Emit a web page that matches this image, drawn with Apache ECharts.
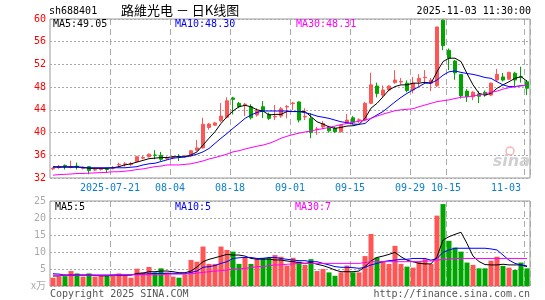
<!DOCTYPE html>
<html>
<head>
<meta charset="utf-8">
<script src="https://cdn.jsdelivr.net/npm/echarts@6/dist/echarts.min.js"></script>
<style>
  html, body { margin: 0; padding: 0; background: #fff; }
  #chart { width: 545px; height: 300px; }
</style>
</head>
<body>
<div id="chart"></div>
<script>
const dates = [
  '2025-07-07','2025-07-08','2025-07-09','2025-07-10','2025-07-11',
  '2025-07-14','2025-07-15','2025-07-16','2025-07-17','2025-07-18',
  '2025-07-21','2025-07-22','2025-07-23','2025-07-24','2025-07-25',
  '2025-07-28','2025-07-29','2025-07-30','2025-07-31','2025-08-01',
  '2025-08-04','2025-08-05','2025-08-06','2025-08-07','2025-08-08',
  '2025-08-11','2025-08-12','2025-08-13','2025-08-14','2025-08-15',
  '2025-08-18','2025-08-19','2025-08-20','2025-08-21','2025-08-22',
  '2025-08-25','2025-08-26','2025-08-27','2025-08-28','2025-08-29',
  '2025-09-01','2025-09-02','2025-09-03','2025-09-04','2025-09-05',
  '2025-09-08','2025-09-09','2025-09-10','2025-09-11','2025-09-12',
  '2025-09-15','2025-09-16','2025-09-17','2025-09-18','2025-09-19',
  '2025-09-22','2025-09-23','2025-09-24','2025-09-25','2025-09-26',
  '2025-09-29','2025-09-30','2025-10-09','2025-10-10','2025-10-13',
  '2025-10-14','2025-10-15','2025-10-16','2025-10-17','2025-10-20',
  '2025-10-21','2025-10-22','2025-10-23','2025-10-24','2025-10-27',
  '2025-10-28','2025-10-29','2025-10-30','2025-10-31','2025-11-03'
];

// dates that get a label and a dashed line
const tickDates = ['2025-07-21','2025-08-04','2025-08-18','2025-09-01','2025-09-15','2025-09-29','2025-10-15','2025-11-03'];

const open = [
  33.6,33.9,34.2,33.9,34.1,33.7,34.0,33.4,33.5,33.6,
  33.7,34.3,34.4,34.4,34.9,35.5,35.75,36.05,36.0,35.45,
  35.55,35.8,35.8,35.9,36.9,37.3,40.9,41.3,42.1,42.7,
  46.1,45.15,44.9,44.55,43.1,44.55,43.2,42.75,42.9,44.5,
  45.1,45.4,42.75,42.5,40.55,41.0,41.0,40.75,40.15,41.6,
  42.6,42.15,42.2,45.15,48.2,46.6,47.5,48.8,48.9,48.7,
  47.5,48.95,49.65,48.7,48.25,59.8,54.5,52.6,50.25,47.3,
  46.3,46.8,47.1,46.6,49.25,49.8,49.4,50.45,49.85,48.95
];
const close = [
  33.7,34.0,34.1,34.0,34.0,33.8,33.3,33.5,33.6,33.5,
  33.8,34.4,34.5,34.5,35.75,35.6,36.2,36.0,35.3,35.55,
  35.65,35.75,35.9,36.8,37.3,41.45,41.5,41.7,42.9,45.6,
  45.85,44.55,45.0,42.6,43.8,43.7,42.5,42.85,44.2,44.6,
  45.2,42.2,42.85,40.0,40.65,41.6,40.3,40.15,41.3,42.2,
  41.8,42.25,45.15,48.4,46.9,47.5,48.2,49.25,49.0,47.4,
  48.7,49.55,49.75,49.2,58.6,55.3,53.1,50.5,46.45,46.3,
  47.1,46.4,46.6,48.7,50.25,49.25,50.6,49.25,49.75,47.8
];
const low = [
  33.4,33.6,33.5,33.7,33.5,33.5,32.65,33.2,33.3,32.85,
  33.5,33.9,34.0,34.1,34.8,35.3,35.6,35.3,35.0,35.2,
  35.3,35.0,35.6,35.8,36.8,37.2,40.5,41.2,41.8,42.5,
  43.2,44.3,42.9,42.3,42.8,42.55,42.2,42.2,42.6,42.5,
  44.0,41.8,42.2,39.0,39.6,40.6,40.0,39.9,40.0,41.5,
  41.4,41.7,42.0,45.0,46.2,46.2,47.3,48.6,48.5,47.1,
  46.9,48.1,48.6,47.3,48.0,54.5,51.0,49.3,46.0,45.4,
  45.7,45.2,46.3,46.4,49.1,49.0,49.3,48.1,48.8,46.6
];
const high = [
  33.9,34.3,34.4,35.05,34.7,34.0,34.1,33.7,33.8,33.8,
  34.1,34.7,34.8,34.8,35.9,35.9,36.3,36.9,36.6,35.8,
  35.9,36.2,36.0,36.9,38.7,42.6,41.7,41.9,45.2,46.2,
  46.3,45.4,45.2,45.0,44.3,45.55,43.5,44.85,44.5,44.85,
  45.4,45.5,44.3,43.4,41.0,42.0,41.2,41.0,41.5,43.3,
  42.9,42.5,45.4,50.55,48.8,48.3,48.3,51.0,49.6,49.2,
  49.8,50.3,51.0,49.6,58.6,59.9,54.8,52.8,50.3,47.65,
  47.3,47.3,47.4,48.8,51.2,50.5,50.7,50.7,51.6,49.25
];

const ma5 = [
  33.9,33.9,33.9,33.9,33.9,33.9,33.7,33.7,33.7,33.7,
  33.8,34.0,34.3,34.5,34.8,35.1,35.4,35.5,35.6,35.6,
  35.75,35.75,35.75,36.05,36.6,37.8,39.0,40.15,41.6,42.8,
  43.8,44.55,44.8,44.55,44.0,43.8,43.1,43.2,43.2,43.7,
  43.7,43.7,43.7,42.8,41.9,41.5,41.0,40.75,40.9,41.15,
  41.2,41.45,42.5,44.3,45.15,46.3,47.5,48.1,48.4,48.4,
  48.7,48.7,48.85,48.7,50.7,52.5,53.1,53.1,52.5,50.4,
  48.4,46.9,46.6,46.9,47.8,48.4,48.95,49.55,49.85,49.05
];
const ma10 = [
  34.0,34.0,34.0,34.0,34.0,33.8,33.8,33.8,33.8,33.8,
  33.8,33.8,33.8,33.9,34.0,34.3,34.5,34.6,34.9,35.2,
  35.5,35.6,35.7,35.9,36.2,36.6,37.2,38.1,39.0,39.85,
  40.75,41.6,42.5,43.1,43.55,43.8,43.8,43.8,43.8,43.8,
  43.7,43.7,43.5,43.25,42.9,42.7,42.5,42.2,41.9,41.75,
  41.5,41.45,41.6,42.5,43.1,43.7,44.55,45.4,46.2,46.9,
  47.5,48.1,48.7,48.7,49.25,50.1,50.7,50.85,50.6,50.4,
  50.25,50.0,49.7,49.55,48.95,48.4,48.1,48.1,48.25,48.3
];
const ma30 = [
  32.5,32.6,32.65,32.7,32.8,32.8,32.85,32.9,32.95,33.0,
  33.1,33.1,33.2,33.3,33.5,33.6,33.8,34.0,34.1,34.3,
  34.3,34.3,34.4,34.5,34.75,35.0,35.35,35.6,35.9,36.2,
  36.6,36.8,37.1,37.35,37.6,37.8,38.1,38.5,39.0,39.35,
  39.65,39.9,40.1,40.3,40.5,40.7,40.9,41.15,41.4,41.6,
  41.8,42.0,42.2,42.5,42.9,43.25,43.55,43.85,44.0,44.1,
  44.2,44.55,44.85,45.15,45.45,45.6,45.75,46.0,46.2,46.3,
  46.45,46.6,46.8,47.1,47.3,47.65,47.9,48.05,48.25,48.31
];

// volume, 万手
const volume = [
  2.45,2.75,2.9,4.4,3.7,2.75,3.7,2.75,3.0,3.0,
  3.0,3.7,3.2,2.45,5.1,4.0,5.6,4.0,5.2,4.0,
  2.75,2.45,3.35,7.65,7.15,11.6,6.5,6.5,11.6,10.6,
  10.1,6.5,8.3,6.5,8.1,8.3,8.3,9.1,8.6,6.0,
  8.3,7.15,6.2,7.9,4.4,5.0,4.0,3.0,4.0,6.0,
  4.0,4.0,8.8,15.3,8.4,7.35,6.5,11.8,6.5,5.7,
  5.4,7.15,7.9,6.5,20.7,24.1,13.3,11.3,10.1,6.9,
  6.2,5.2,5.2,7.45,8.6,5.9,5.4,4.7,6.9,5.2
];
const vma5 = [
  2.95,2.95,3.2,3.2,3.2,3.2,3.2,3.1,3.0,3.0,
  3.2,3.2,3.2,3.2,3.7,3.8,4.2,4.2,4.4,4.4,
  4.2,3.9,3.9,4.4,5.6,7.15,7.85,8.3,8.8,9.3,
  9.1,9.1,8.8,8.1,7.9,7.9,7.9,7.65,7.65,7.35,
  7.15,6.9,6.65,6.9,6.4,6.0,5.4,4.7,4.2,4.2,
  4.2,4.4,5.7,7.4,8.4,8.8,9.3,9.9,8.6,7.6,
  7.15,6.65,6.5,6.5,8.6,13.5,14.5,15.2,15.8,12.5,
  8.8,7.2,6.3,6.2,6.2,6.4,6.2,6.2,6.2,5.7
];
const vma10 = [
  3.6,3.5,3.2,3.2,3.2,3.2,3.2,3.2,3.2,3.2,
  3.2,3.2,3.2,3.3,3.4,3.5,3.6,3.7,3.7,3.7,
  3.7,3.7,3.6,4.0,4.4,5.5,5.7,6.0,6.65,7.15,
  8.1,8.3,8.4,8.4,8.1,8.1,8.4,8.4,8.1,7.85,
  7.65,7.45,7.45,7.15,7.15,6.65,6.2,5.7,5.5,5.5,
  5.4,5.2,5.5,6.2,6.65,7.15,7.45,7.6,7.85,7.85,
  8.1,8.1,8.1,7.6,8.1,9.9,10.6,11.1,11.1,11.1,
  11.1,11.1,11.1,10.9,10.6,9.1,7.6,6.65,6.2,5.9
];
const vma30 = [
  3.2,3.2,3.2,3.2,3.2,3.2,3.2,3.2,3.2,3.2,
  3.2,3.3,3.3,3.3,3.3,3.3,3.3,3.3,3.3,3.5,
  3.5,3.5,3.5,3.6,3.8,4.0,4.2,4.4,4.5,4.7,
  5.0,5.0,5.2,5.4,5.7,5.7,6.0,6.2,6.2,6.4,
  6.5,6.65,6.65,6.65,6.65,6.65,6.65,6.65,6.65,6.65,
  6.65,6.65,6.9,7.15,7.15,7.15,7.15,7.15,7.15,7.15,
  7.15,7.15,7.35,7.35,7.6,7.85,7.85,8.1,8.1,8.1,
  8.1,8.1,8.1,8.1,8.1,8.1,8.1,8.1,8.1,8.1
];

const UP = '#ff5555';
const DOWN = '#00a600';
const MONO = '"DejaVu Sans Mono", monospace';

const chart = echarts.init(document.getElementById('chart'), null, { renderer: 'canvas' });

const isTick = (i) => tickDates.includes(dates[i]);

const xBase = {
  type: 'category',
  data: dates,
  boundaryGap: true,
  axisLine: { show: false },
  axisTick: { show: false },
  splitLine: {
    show: true,
    interval: (i) => isTick(i),
    lineStyle: { color: '#aaa', type: [6, 4], width: 1 },
  },
};

const text = (x, y, str, color, opts = {}) => ({
  type: 'text',
  x: x,
  y: y,
  z: 100,
  style: {
    text: str,
    fill: color,
    font: opts.font || '10px ' + MONO,
    align: opts.align || 'left',
    verticalAlign: 'middle',
  },
});

const option = {
  animation: false,
  backgroundColor: '#fff',
  grid: [
    { left: 50, top: 19, width: 480, height: 159, show: true, borderColor: '#999', borderWidth: 1 },
    { left: 50, top: 201, width: 480, height: 85, show: true, borderColor: '#999', borderWidth: 1 },
  ],
  xAxis: [
    {
      ...xBase,
      gridIndex: 0,
      axisLabel: {
        interval: (i) => isTick(i),
        formatter: (v) => (v === tickDates[0] ? v : v.slice(5)),
        color: '#0a7fd0',
        fontFamily: MONO,
        fontSize: 10,
        margin: 5,
        padding: [0, 6, 0, 0],
        alignMaxLabel: 'right',
      },
    },
    { ...xBase, gridIndex: 1, axisLabel: { show: false } },
  ],
  yAxis: [
    {
      type: 'value',
      gridIndex: 0,
      min: 32,
      max: 60,
      interval: 4,
      axisLine: { show: false },
      axisTick: { show: false },
      axisLabel: { color: '#ff0000', fontFamily: MONO, fontSize: 10, margin: 4 },
      splitLine: { lineStyle: { color: '#aaa', type: [2, 2] } },
    },
    {
      type: 'value',
      gridIndex: 1,
      min: 0,
      max: 25,
      interval: 5,
      axisLine: { show: false },
      axisTick: { show: false },
      axisLabel: {
        color: '#aaa',
        fontFamily: MONO,
        fontSize: 10,
        margin: 4,
        formatter: (v) => (v === 0 ? '' : String(v)),
      },
      splitLine: { lineStyle: { color: '#aaa', type: [2, 2] } },
    },
  ],
  series: [
    {
      name: 'K',
      type: 'candlestick',
      xAxisIndex: 0,
      yAxisIndex: 0,
      barWidth: 4,
      data: dates.map((d, i) => [open[i], close[i], low[i], high[i]]),
      itemStyle: { color: UP, color0: DOWN, borderColor: UP, borderColor0: DOWN, borderWidth: 1 },
    },
    { name: 'MA5', type: 'line', data: ma5, symbol: 'none', lineStyle: { color: '#000', width: 1 }, z: 5 },
    { name: 'MA10', type: 'line', data: ma10, symbol: 'none', lineStyle: { color: '#0000ff', width: 1 }, z: 5 },
    { name: 'MA30', type: 'line', data: ma30, symbol: 'none', lineStyle: { color: '#ff00ff', width: 1 }, z: 5 },
    {
      name: 'VOL',
      type: 'bar',
      xAxisIndex: 1,
      yAxisIndex: 1,
      barWidth: 5,
      data: volume.map((v, i) => ({
        value: v,
        itemStyle: { color: close[i] >= open[i] ? UP : DOWN },
      })),
    },
    { name: 'VMA5', type: 'line', xAxisIndex: 1, yAxisIndex: 1, data: vma5, symbol: 'none', lineStyle: { color: '#000', width: 1 }, z: 5 },
    { name: 'VMA10', type: 'line', xAxisIndex: 1, yAxisIndex: 1, data: vma10, symbol: 'none', lineStyle: { color: '#0000ff', width: 1 }, z: 5 },
    { name: 'VMA30', type: 'line', xAxisIndex: 1, yAxisIndex: 1, data: vma30, symbol: 'none', lineStyle: { color: '#ff00ff', width: 1 }, z: 5 },
  ],
  graphic: [
    text(49, 11, 'sh688401', '#000'),
    text(121, 10, '路維光电 － 日K线图', '#000', { font: '13px "Noto Sans CJK SC"' }),
    text(531, 11, '2025-11-03 11:30:00', '#000', { align: 'right' }),
    text(53, 24, 'MA5:49.05', '#000'),
    text(175, 24, 'MA10:48.30', '#0000ff'),
    text(296, 24, 'MA30:48.31', '#ff00ff'),
    text(55, 207, 'MA5:5', '#000'),
    text(175, 207, 'MA10:5', '#0000ff'),
    text(295, 207, 'MA30:7', '#ff00ff'),
    text(46, 285, 'x万', '#aaa', { align: 'right', font: '10px "Noto Sans CJK SC"' }),
    text(50, 294, 'Copyright 2025 SINA.COM', '#555'),
    text(530, 294, 'http://finance.sina.com.cn', '#555', { align: 'right' }),
    text(530, 162, 'sina', '#d0d0d0', { align: 'right', font: 'italic bold 16px "DejaVu Sans"' }),
    {
      type: 'circle',
      shape: { cx: 510, cy: 151, r: 4 },
      style: { fill: 'none', stroke: '#f0b8b8', lineWidth: 1.5 },
      z: 100,
    },
  ],
};

chart.setOption(option);
</script>
</body>
</html>
